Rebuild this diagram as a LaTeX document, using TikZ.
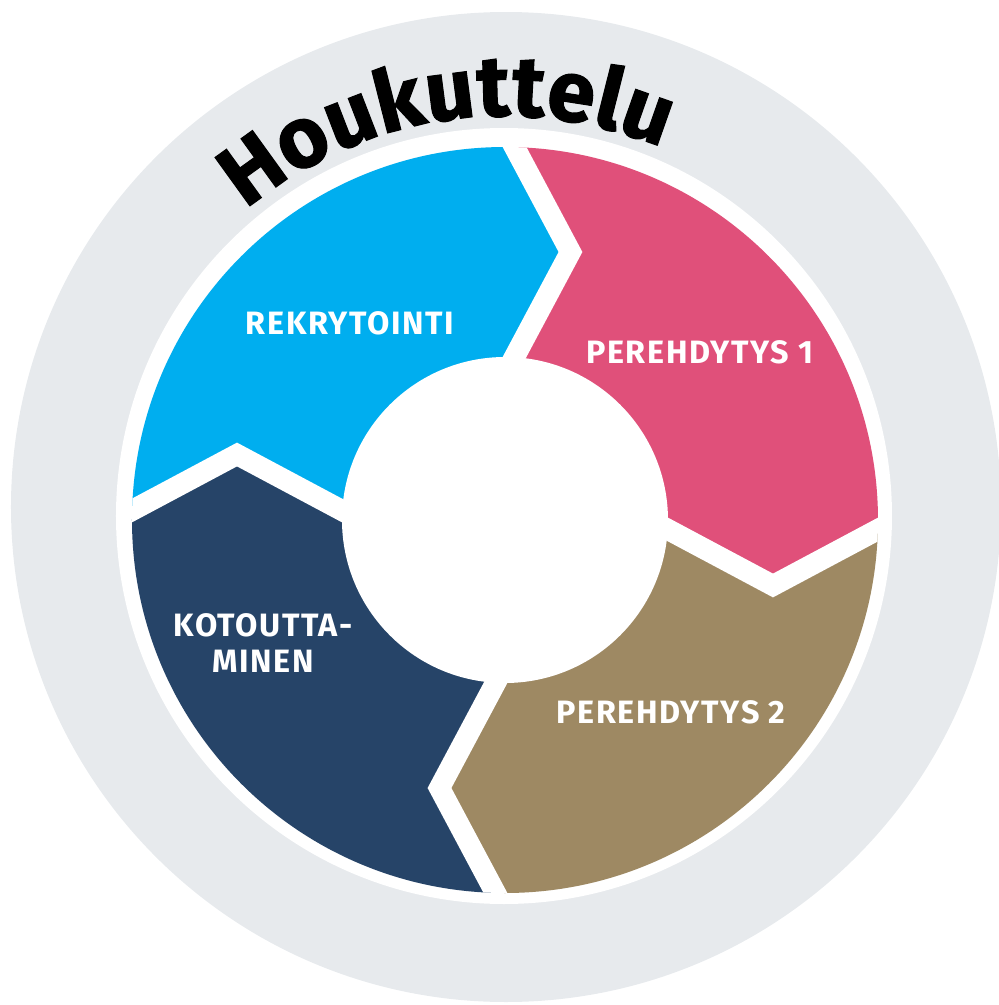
\documentclass[tikz,border=0pt]{standalone}
\usepackage{fontspec}
\setmainfont{Fira Sans}
\usetikzlibrary{decorations.text}
\definecolor{ringgrey}{HTML}{E7EAED}
\definecolor{rekblue}{HTML}{00AEEF}
\definecolor{perpink}{HTML}{E0507A}
\definecolor{perbrown}{HTML}{9E8963}
\definecolor{kotnavy}{HTML}{264468}
\begin{document}
\begin{tikzpicture}[x=0.02cm, y=0.02cm,
    gap/.style={draw=white, line width=0.42cm},
    lbl/.style={text=white, align=center,
      font=\fontsize{18.4}{20.4}\selectfont\bfseries\addfontfeatures{LetterSpace=5}}]
  \useasboundingbox (-505,-485) rectangle (494,520);
  \fill[ringgrey] (1,13) circle[radius=495];
  \fill[white] (-1,4) circle[radius=388];

  % chevron cuts, one per quarter, turned clockwise
  \foreach \g/\ang in {t/0, r/-90, b/180, l/90} {
    \begin{scope}[rotate=\ang]
      \coordinate (\g in) at (-11.8,123);
      \coordinate (\g tip) at (65.5,268);
      \coordinate (\g out) at (-11.8,413);
    \end{scope}
  }

  \begin{scope}
    \clip (0,0) circle[radius=373];
    \foreach \a/\b/\c/\col in {l/t/135/rekblue, t/r/45/perpink, r/b/-45/perbrown, b/l/-135/kotnavy}
      \fill[\col] (0,0) -- (\a in) -- (\a tip) -- (\a out) -- (\c:600) -- (\b out) -- (\b tip) -- (\b in) -- cycle;
    \foreach \g in {t,r,b,l}
      \draw[gap] (\g in) -- (\g tip) -- (\g out);
  \end{scope}
  \fill[white] (0,0) circle[radius=163];

  \path[decorate, decoration={text along path, text align=center,
      text={|\fontsize{49}{49}\selectfont\bfseries\addfontfeatures{FakeBold=1.2,LetterSpace=2}|Houkuttelu}}]
    (150:404) arc[start angle=150, end angle=47, radius=404];

  \node[lbl] (rekry) at (-155,197) {REKRYTOINTI};
  \node[lbl] (pere1) at (195,168) {PEREHDYTYS 1};
  \node[lbl] (pere2) at (166,-192) {PEREHDYTYS 2};
  \node[lbl] (kotou) at (-242,-123) {KOTOUTTA-\\MINEN};
\end{tikzpicture}
\end{document}
